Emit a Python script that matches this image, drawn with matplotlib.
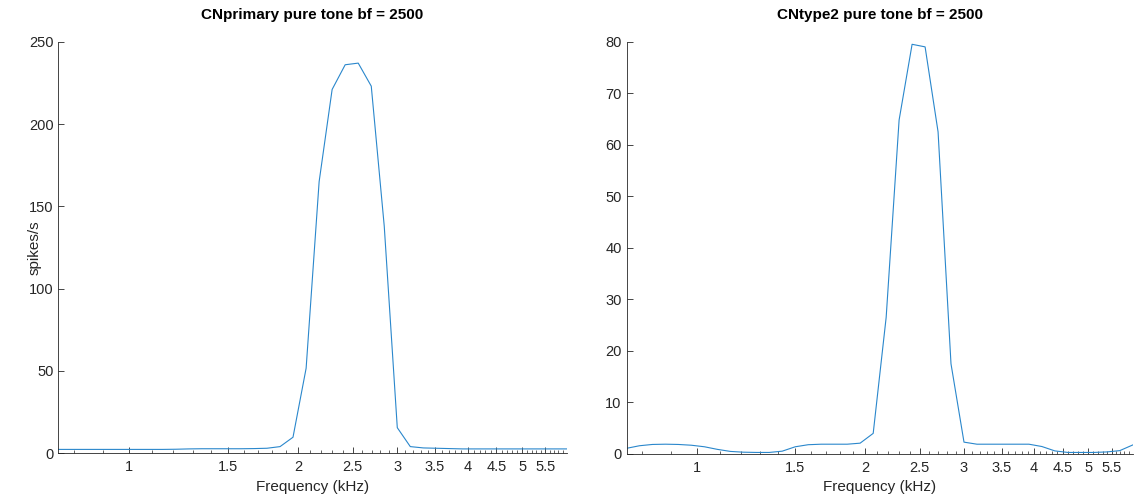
import numpy as np
import matplotlib
matplotlib.use('Agg')
import matplotlib.pyplot as plt
from matplotlib.ticker import FixedLocator, NullFormatter

plt.rcParams['font.family'] = ['Liberation Sans', 'DejaVu Sans']

# characteristic frequencies (kHz), log spaced 0.75 .. 6
freq = [0.750, 0.791, 0.834, 0.880, 0.928, 0.979, 1.033, 1.089, 1.149, 1.212,
        1.278, 1.348, 1.422, 1.500, 1.582, 1.669, 1.760, 1.857, 1.958, 2.066,
        2.179, 2.298, 2.424, 2.557, 2.697, 2.844, 3.000, 3.164, 3.338, 3.520,
        3.713, 3.917, 4.131, 4.357, 4.596, 4.848, 5.113, 5.393, 5.688, 6.000]

primary = [2.3, 2.3, 2.3, 2.3, 2.3, 2.3, 2.3, 2.3, 2.3, 2.4,
           2.6, 2.7, 2.7, 2.7, 2.7, 2.8, 3.0, 4.0, 9.7, 51.6,
           165.0, 221.0, 236.0, 237.0, 223.0, 138.0, 15.5, 4.0, 3.2, 3.0,
           2.8, 2.6, 2.6, 2.6, 2.6, 2.6, 2.6, 2.6, 2.6, 2.6]

type2 = [1.1, 1.6, 1.85, 1.9, 1.85, 1.7, 1.4, 0.9, 0.5, 0.35,
         0.3, 0.3, 0.55, 1.4, 1.8, 1.9, 1.9, 1.9, 2.1, 4.0,
         26.5, 64.8, 79.5, 79.0, 62.5, 17.5, 2.3, 1.9, 1.9, 1.9,
         1.9, 1.9, 1.45, 0.6, 0.3, 0.3, 0.3, 0.4, 0.65, 1.75]

major_ticks = [1, 1.5, 2, 2.5, 3, 3.5, 4, 4.5, 5, 5.5]
major_labels = ['1', '1.5', '2', '2.5', '3', '3.5', '4', '4.5', '5', '5.5']

panels = [
    ('CNprimary pure tone bf = 2500', primary, [0, 50, 100, 150, 200, 250], True),
    ('CNtype2 pure tone bf = 2500', type2, [0, 10, 20, 30, 40, 50, 60, 70, 80], False),
]
positions = [[0.0515, 0.0918, 0.4478, 0.8246], [0.552, 0.0902, 0.446, 0.8262]]

axc = '#262626'
fig = plt.figure(figsize=(11.35, 4.99), dpi=100)

for (title, vals, yt, ylab), pos in zip(panels, positions):
    ax = fig.add_axes(pos)
    ax.plot(freq, vals, color='#2A87CC', lw=0.8)
    ax.set_xscale('log')
    ax.set_xlim(0.75, 6.0)
    ax.set_ylim(yt[0], yt[-1])
    ax.xaxis.set_major_locator(FixedLocator(major_ticks))
    ax.set_xticklabels(major_labels)
    minors = [m for m in np.round(np.arange(0.8, 6.0, 0.1), 1) if m not in major_ticks]
    ax.xaxis.set_minor_locator(FixedLocator(minors))
    ax.xaxis.set_minor_formatter(NullFormatter())
    ax.set_yticks(yt)
    ax.set_yticklabels([str(v) for v in yt])
    for s in ['top', 'right']:
        ax.spines[s].set_visible(False)
    for s in ['left', 'bottom']:
        ax.spines[s].set_color(axc)
        ax.spines[s].set_linewidth(0.6)
    ax.tick_params(which='major', direction='in', length=4, width=0.6, color=axc,
                   labelcolor=axc, labelsize=10.5)
    ax.tick_params(which='minor', direction='in', length=2, width=0.5, color=axc)
    ax.tick_params(axis='x', pad=5)
    ax.set_title(title, fontsize=11, fontweight='bold', color='black', pad=16)
    ax.set_xlabel('Frequency (kHz)', fontsize=11, color=axc, labelpad=4)
    if ylab:
        ax.set_ylabel('spikes/s', fontsize=11, color=axc)
        ax.yaxis.set_label_coords(-0.033, 0.5)

fig.savefig('out.png', dpi=100)
